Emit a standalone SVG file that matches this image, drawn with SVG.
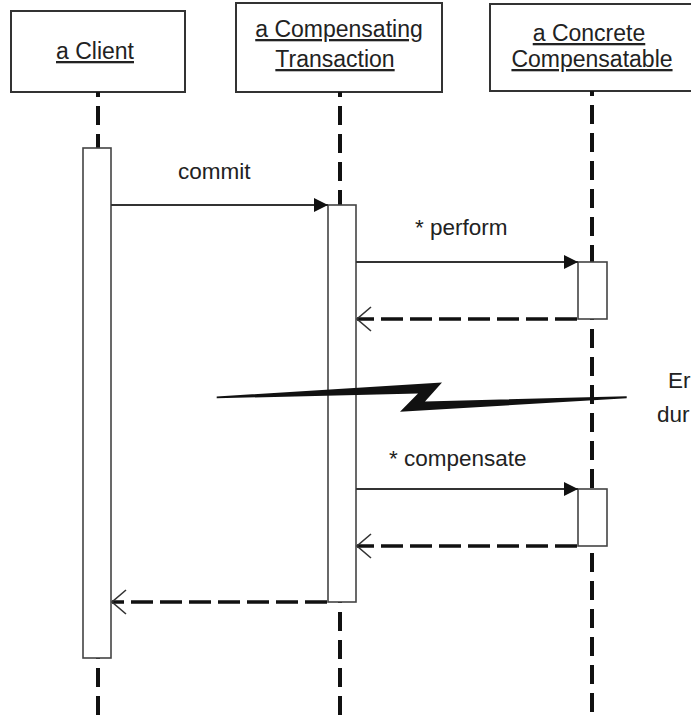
<svg xmlns="http://www.w3.org/2000/svg" width="691" height="721" viewBox="0 0 691 721">
<style>
.box{fill:#fff;stroke:#333;stroke-width:2}
.act{fill:#fff;stroke:#444;stroke-width:1.6}
.life{stroke:#111;stroke-width:4;stroke-dasharray:19 9;fill:none}
.lbl{font-family:"Liberation Sans",Arial,sans-serif;font-size:23px;fill:#222;text-anchor:middle;text-decoration:underline}
.msg{font-family:"Liberation Sans",Arial,sans-serif;font-size:22.5px;fill:#222}
.call{stroke:#333;stroke-width:2;fill:none}
.ret{stroke:#111;stroke-width:3.4;stroke-dasharray:22 7;fill:none}
</style>
<defs>
<marker id="filled" markerUnits="userSpaceOnUse" markerWidth="16" markerHeight="16" refX="14" refY="7" orient="auto">
<path d="M0,0 L14,7 L0,14 Z" fill="#111"/>
</marker>
<marker id="open" markerUnits="userSpaceOnUse" markerWidth="18" markerHeight="28" refX="15" refY="13" orient="auto">
<path d="M1,1 L15,13 L1,25" fill="none" stroke="#333" stroke-width="1.6"/>
</marker>
</defs>
<rect width="691" height="721" fill="#fff"/>

<g id="client">
<rect class="box" x="11" y="11" width="174" height="81"/>
<text class="lbl" x="95" y="59">a Client</text>
<line class="life" x1="98" y1="92" x2="98" y2="148" stroke-dashoffset="14"/>
<line class="life" x1="98" y1="658" x2="98" y2="721" stroke-dashoffset="-10"/>
<rect class="act" x="83" y="148" width="28" height="510"/>
</g>

<g id="transaction">
<rect class="box" x="236" y="3" width="206" height="89"/>
<text class="lbl" x="339" y="37">a Compensating</text>
<text class="lbl" x="335" y="67">Transaction</text>
<line class="life" x1="340" y1="92" x2="340" y2="205" stroke-dashoffset="14"/>
<line class="life" x1="340" y1="602" x2="340" y2="721" stroke-dashoffset="-10"/>
<rect class="act" x="328" y="205" width="28" height="397"/>
</g>

<g id="concrete">
<rect class="box" x="490" y="4" width="210" height="87"/>
<text class="lbl" x="589" y="41">a Concrete</text>
<text class="lbl" x="592" y="67">Compensatable</text>
<line class="life" x1="592" y1="91" x2="592" y2="721" stroke-dashoffset="14"/>
<rect class="act" x="578" y="262" width="29" height="57"/>
<rect class="act" x="578" y="489" width="29" height="57"/>
</g>

<g id="connectors">
<line class="call" x1="111" y1="205" x2="328" y2="205" marker-end="url(#filled)"/>
<text class="msg" x="178" y="179">commit</text>
<line class="call" x1="356" y1="262" x2="578" y2="262" marker-end="url(#filled)"/>
<text class="msg" x="415" y="235">* perform</text>
<line class="ret" x1="577" y1="319" x2="357" y2="319" marker-end="url(#open)"/>
<line class="call" x1="356" y1="489" x2="578" y2="489" marker-end="url(#filled)"/>
<text class="msg" x="389" y="466">* compensate</text>
<line class="ret" x1="577" y1="546" x2="357" y2="546" marker-end="url(#open)"/>
<line class="ret" x1="327" y1="602" x2="112" y2="602" marker-end="url(#open)"/>
</g>

<g id="error">
<polygon points="216.7,396.5 442,382.5 425,401.5 626.7,396.3 626.7,398.3 400,411.7 418,393.5 216.7,398.3" fill="#111"/>
<text class="msg" x="668" y="388">Er</text>
<text class="msg" x="657" y="422">dur</text>
</g>
</svg>
